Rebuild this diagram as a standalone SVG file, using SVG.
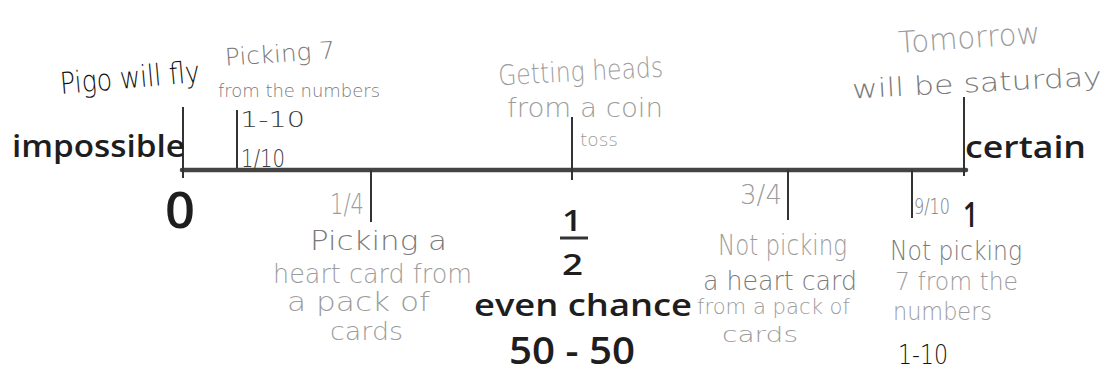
<svg xmlns="http://www.w3.org/2000/svg" width="1105" height="374" viewBox="0 0 1105 374">
<style>
.pr{font-family:"Open Sans","DejaVu Sans",sans-serif;font-weight:600;fill:#1e1e1e}
.hw{font-family:"DejaVu Sans","Liberation Sans",sans-serif;font-weight:300}
.lt{fill:#9c9c9c}
.md{fill:#7a7a7a}
.dk{fill:#3a3a3a}
.bk{fill:#111}
.tick{stroke:#333;stroke-width:2;fill:none}
.axis{stroke:#444;stroke-width:4.5;fill:none;stroke-linecap:round}
</style>
<rect width="1105" height="374" fill="#fff"/>
<g id="connectors">
  <line class="axis" x1="182" y1="170" x2="966" y2="170"/>
  <line class="tick" x1="183" y1="107" x2="183" y2="178"/>
  <line class="tick" x1="237" y1="110" x2="237" y2="168"/>
  <line class="tick" x1="371" y1="170" x2="371" y2="222"/>
  <line class="tick" x1="572" y1="117" x2="572" y2="180"/>
  <line class="tick" x1="788" y1="170" x2="788" y2="220"/>
  <line class="tick" x1="912" y1="170" x2="912" y2="218"/>
  <line class="tick" x1="964" y1="97" x2="964" y2="176"/>
</g>
<g id="impossible">
  <text class="pr" x="12" y="157" font-size="30" textLength="173" lengthAdjust="spacingAndGlyphs">impossible</text>
  <text class="pr" x="165" y="228" font-size="50" font-weight="500" textLength="30" lengthAdjust="spacingAndGlyphs">0</text>
</g>
<g id="certain">
  <text class="pr" x="965" y="158" font-size="30" textLength="121" lengthAdjust="spacingAndGlyphs">certain</text>
  <text class="pr" x="963" y="227" font-size="34" fill="#333" textLength="15" lengthAdjust="spacingAndGlyphs">1</text>
</g>
<g id="even">
  <text class="pr" x="562" y="231" font-size="28" textLength="20" lengthAdjust="spacingAndGlyphs">1</text>
  <line x1="560" y1="238" x2="588" y2="238" stroke="#333" stroke-width="3"/>
  <text class="pr" x="562" y="275" font-size="28" textLength="21" lengthAdjust="spacingAndGlyphs">2</text>
  <text class="pr" x="474" y="316" font-size="31" textLength="218" lengthAdjust="spacingAndGlyphs">even chance</text>
  <text class="pr" x="509" y="364" font-size="38" textLength="126" lengthAdjust="spacingAndGlyphs">50 - 50</text>
</g>
<g id="pigs">
  <text class="hw bk" x="60" y="88" font-size="30" transform="rotate(-5 130 80)" textLength="140" lengthAdjust="spacingAndGlyphs">Pigo will fly</text>
</g>
<g id="picking7">
  <text class="hw md" x="225" y="62" font-size="24" transform="rotate(-4 280 55)" textLength="110" lengthAdjust="spacingAndGlyphs">Picking 7</text>
  <text class="hw md" x="218" y="97" font-size="17" textLength="162" lengthAdjust="spacingAndGlyphs">from the numbers</text>
  <text class="hw dk" x="240" y="127" font-size="22" textLength="65" lengthAdjust="spacingAndGlyphs">1-10</text>
  <text class="hw dk" x="241" y="167" font-size="24" textLength="44" lengthAdjust="spacingAndGlyphs">1/10</text>
</g>
<g id="heads">
  <text class="hw lt" x="498" y="81" font-size="28" transform="rotate(-3 580 70)" textLength="165" lengthAdjust="spacingAndGlyphs">Getting heads</text>
  <text class="hw lt" x="507" y="117" font-size="26" textLength="156" lengthAdjust="spacingAndGlyphs">from a coin</text>
  <text class="hw lt" x="580" y="146" font-size="18" textLength="38" lengthAdjust="spacingAndGlyphs">toss</text>
</g>
<g id="tomorrow">
  <text class="hw lt" x="898" y="48" font-size="30" transform="rotate(-4 970 35)" textLength="142" lengthAdjust="spacingAndGlyphs">Tomorrow</text>
  <text class="hw md" x="852" y="92" font-size="26" transform="rotate(-3 975 85)" textLength="250" lengthAdjust="spacingAndGlyphs">will be saturday</text>
</g>
<g id="quarter">
  <text class="hw lt" x="330" y="214" font-size="28" textLength="34" lengthAdjust="spacingAndGlyphs">1/4</text>
  <text class="hw md" x="310" y="250" font-size="26" textLength="137" lengthAdjust="spacingAndGlyphs">Picking a</text>
  <text class="hw lt" x="273" y="283" font-size="26" textLength="199" lengthAdjust="spacingAndGlyphs">heart card from</text>
  <text class="hw lt" x="287" y="311" font-size="26" textLength="143" lengthAdjust="spacingAndGlyphs">a pack of</text>
  <text class="hw lt" x="330" y="340" font-size="24" textLength="73" lengthAdjust="spacingAndGlyphs">cards</text>
</g>
<g id="threequarter">
  <text class="hw lt" x="740" y="204" font-size="26" textLength="42" lengthAdjust="spacingAndGlyphs">3/4</text>
  <text class="hw lt" x="718" y="255" font-size="28" textLength="129" lengthAdjust="spacingAndGlyphs">Not picking</text>
  <text class="hw md" x="703" y="290" font-size="26" textLength="154" lengthAdjust="spacingAndGlyphs">a heart card</text>
  <text class="hw lt" x="697" y="314" font-size="22" textLength="153" lengthAdjust="spacingAndGlyphs">from a pack of</text>
  <text class="hw lt" x="722" y="342" font-size="22" textLength="76" lengthAdjust="spacingAndGlyphs">cards</text>
</g>
<g id="ninetenths">
  <text class="hw md" x="914" y="214" font-size="21" textLength="36" lengthAdjust="spacingAndGlyphs">9/10</text>
  <text class="hw md" x="890" y="260" font-size="26" textLength="132" lengthAdjust="spacingAndGlyphs">Not picking</text>
  <text class="hw lt" x="895" y="290" font-size="24" textLength="123" lengthAdjust="spacingAndGlyphs">7 from the</text>
  <text class="hw lt" x="893" y="320" font-size="24" textLength="99" lengthAdjust="spacingAndGlyphs">numbers</text>
  <text class="hw bk" x="898" y="364" font-size="26" textLength="50" lengthAdjust="spacingAndGlyphs">1-10</text>
</g>
</svg>
